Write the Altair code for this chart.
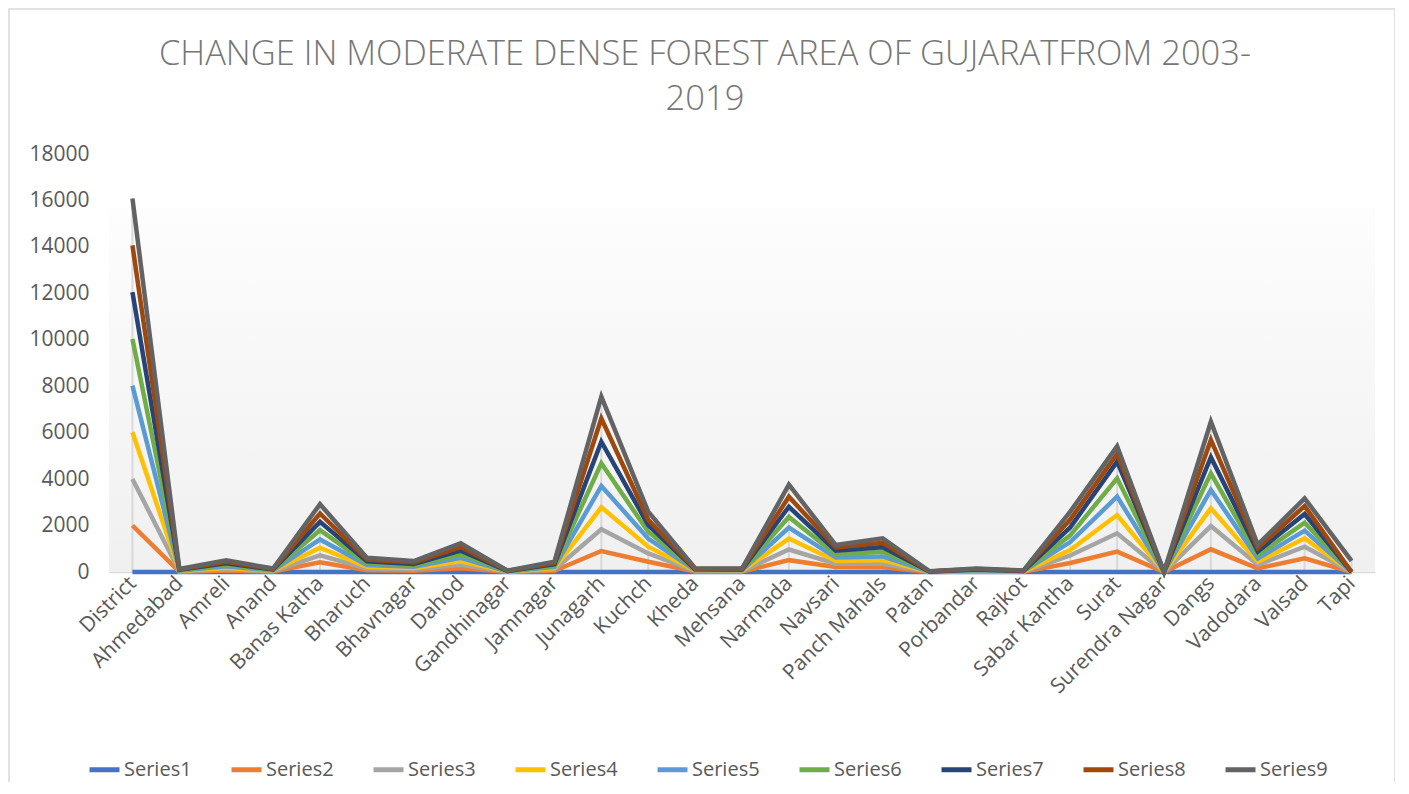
import altair as alt
import pandas as pd

districts = ["District", "Ahmedabad", "Amreli", "Anand", "Banas Katha", "Bharuch", "Bhavnagar",
             "Dahod", "Gandhinagar", "Jamnagar", "Junagarh", "Kuchch", "Kheda", "Mehsana",
             "Narmada", "Navsari", "Panch Mahals", "Patan", "Porbandar", "Rajkot", "Sabar Kantha",
             "Surat", "Surendra Nagar", "Dangs", "Vadodara", "Valsad", "Tapi"]

series1 = [0] * 27
series2 = [2003, 16, 60, 18, 420, 75, 57, 160, 7, 55, 904, 440, 20, 18, 510, 220, 200, 4, 18, 7, 390, 875, 1, 977, 160, 588, 0]
series3 = [2005, 16, 60, 18, 300, 75, 57, 150, 7, 55, 935, 360, 20, 18, 460, 140, 150, 4, 18, 7, 320, 790, 1, 1000, 150, 502, 0]
series4 = [2007, 16, 62, 18, 330, 76, 58, 150, 7, 55, 947, 290, 20, 19, 470, 120, 160, 4, 19, 7, 240, 790, 1, 765, 130, 360, 0]
series5 = [2009, 16, 62, 18, 350, 76, 58, 150, 7, 55, 917, 350, 20, 19, 470, 140, 160, 4, 19, 7, 340, 790, 1, 790, 140, 330, 0]
series6 = [2011, 16, 64, 19, 400, 78, 60, 155, 8, 56, 977, 290, 20, 19, 460, 140, 200, 4, 19, 8, 290, 790, 1, 720, 145, 344, 0]
series7 = [2013, 16, 64, 19, 360, 78, 60, 155, 8, 56, 931, 290, 20, 19, 440, 160, 200, 4, 19, 8, 340, 717, 1, 690, 160, 373, 0]
series8 = [2015, 17, 64, 20, 360, 78, 60, 155, 8, 56, 1000, 230, 20, 19, 430, 140, 190, 3, 19, 8, 340, 330, 1, 745, 145, 345, 0]
series9 = [2017, 17, 64, 20, 400, 79, 60, 160, 8, 57, 940, 350, 20, 19, 520, 100, 190, 3, 19, 8, 340, 330, 1, 785, 145, 330, 480]

series_names = ["Series1", "Series2", "Series3", "Series4", "Series5", "Series6", "Series7", "Series8", "Series9"]
series_colors = ["#4472C4", "#ED7D31", "#A5A5A5", "#FFC000", "#5B9BD5", "#70AD47", "#264478", "#9E480E", "#636363"]
y_ticks = [0, 2000, 4000, 6000, 8000, 10000, 12000, 14000, 16000, 18000]
title_line1 = "CHANGE IN MODERATE DENSE FOREST AREA OF GUJARATFROM 2003-"
title_line2 = "2019"

all_series = [series1, series2, series3, series4, series5, series6, series7, series8, series9]
rows = []
for si, (name, vals) in enumerate(zip(series_names, all_series)):
    for di, (d, v) in enumerate(zip(districts, vals)):
        rows.append({"district": d, "didx": di, "series": name, "sidx": si, "value": v})
df = pd.DataFrame(rows)

W, H = 1266, 418
FONT = "Open Sans"

x_enc = alt.X("district:N", sort=districts,
              scale=alt.Scale(type="point", padding=0.5),
              axis=alt.Axis(title=None, labelAngle=-45, labelAlign="right", labelBaseline="middle",
                            labelFontSize=21, labelColor="#595959", labelFont=FONT, ticks=False,
                            domainColor="#d9d9d9", domainWidth=1.5, labelPadding=8, grid=False))

y_scale = alt.Scale(domain=[0, 18000])
y_axis = alt.Axis(title=None, values=y_ticks, format="d", grid=False, ticks=False, domain=False,
                  labelFontSize=21, labelColor="#595959", labelFont=FONT, labelPadding=20)

bg = alt.Chart(pd.DataFrame({"a": [0]})).mark_rect(
    color=alt.Gradient(gradient="linear",
                       stops=[alt.GradientStop(color="#fdfdfd", offset=0),
                              alt.GradientStop(color="#f0f0f0", offset=1)],
                       x1=0, x2=0, y1=0, y2=1)
).encode(x=alt.value(0), x2=alt.value(W), y=alt.value(54), y2=alt.value(H))

border = alt.Chart(pd.DataFrame({"a": [0]})).mark_rect(
    fillOpacity=0, stroke="#d9d9d9", strokeWidth=1.5
).encode(x=alt.value(-100), x2=alt.value(1286), y=alt.value(-145), y2=alt.value(700))

title_style = dict(font=FONT, fontSize=34.5, fontWeight=300, color="#767676",
                   align="center", baseline="middle")
title1 = alt.Chart(pd.DataFrame({"t": [title_line1]})).mark_text(**title_style).encode(
    text="t:N", x=alt.value(596), y=alt.value(-99))
title2 = alt.Chart(pd.DataFrame({"t": [title_line2]})).mark_text(**title_style).encode(
    text="t:N", x=alt.value(596), y=alt.value(-54))

drops = alt.Chart(df).transform_aggregate(
    total="sum(value)", groupby=["district"]
).transform_calculate(zero="0").mark_rule(color="#d9d9d9", strokeWidth=2).encode(
    x=x_enc,
    y=alt.Y("total:Q", scale=y_scale, axis=y_axis),
    y2="zero:Q",
)

lines = alt.Chart(df).transform_window(
    cum="sum(value)", frame=[None, 0], groupby=["district"], sort=[alt.SortField("sidx")]
).mark_line(strokeWidth=4.5, strokeJoin="miter").encode(
    x=x_enc,
    y=alt.Y("cum:Q", scale=y_scale, axis=y_axis),
    color=alt.Color("series:N", sort=series_names,
                    scale=alt.Scale(domain=series_names, range=series_colors),
                    legend=alt.Legend(title=None, orient="none", legendX=-22, legendY=598,
                                      direction="horizontal", columns=9,
                                      symbolType="stroke", symbolSize=900, symbolStrokeWidth=5,
                                      labelFontSize=20, labelColor="#595959", labelFont=FONT,
                                      labelOffset=2, columnPadding=29)),
    order=alt.Order("didx:Q"),
)

chart = alt.layer(border, bg, drops, lines, title1, title2).properties(
    width=W, height=H,
    autosize=alt.AutoSizeParams(type="none"),
    padding={"left": 101, "top": 146, "right": 20, "bottom": 210},
).configure(background="white", view=alt.ViewConfig(stroke="transparent", strokeWidth=0))

chart.save("out.html", embed_options={"renderer": "svg", "actions": False})
